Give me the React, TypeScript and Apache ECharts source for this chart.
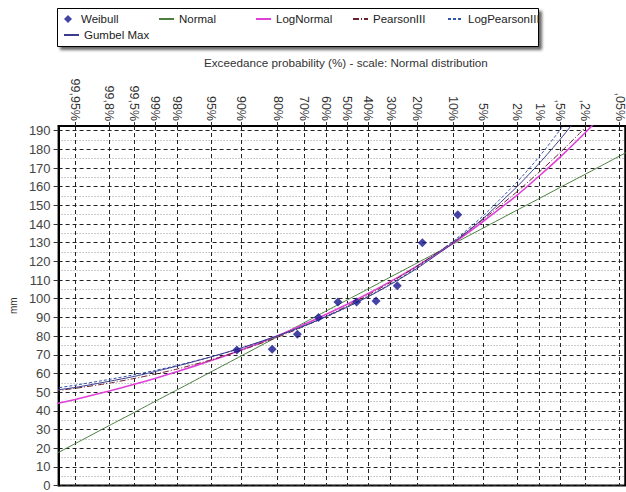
import React, { useEffect, useRef } from "react";
import * as echarts from "echarts";

// Exceedance probability ticks (top axis, normal probability scale)
const tickProbs = [99.95, 99.8, 99.5, 99, 98, 95, 90, 80, 70, 60, 50, 40, 30, 20, 10, 5, 2, 1, 0.5, 0.2, 0.05];
const tickLabels = ["99,95%", "99,8%", "99,5%", "99%", "98%", "95%", "90%", "80%", "70%", "60%", "50%", "40%", "30%", "20%", "10%", "5%", "2%", "1%", ",5%", ",2%", ",05%"];

// Observed values with Weibull plotting positions
const weibullProbs = [90.9, 81.8, 72.7, 63.6, 54.5, 45.5, 36.4, 27.3, 18.2, 9.09];
const weibullValues = [72.5, 73, 81, 90, 98.3, 98.3, 98.8, 107, 130, 145];

// Fitted distribution curves, read at these exceedance probabilities
const curveProbs = [99.98, 99.95, 99.8, 99.5, 99, 98, 95, 90, 80, 70, 60, 50, 40, 30, 20, 10, 5, 2, 1, 0.5, 0.2, 0.1, 0.05, 0.02];
const normalValues = [16.6, 22.4, 32.1, 39.1, 45.0, 51.3, 60.9, 69.4, 79.7, 87.1, 93.5, 99.4, 105.3, 111.7, 119.1, 129.4, 137.9, 147.5, 153.8, 159.7, 166.7, 171.7, 176.4, 182.2];
const logNormalValues = [43.6, 46.1, 50.6, 54.2, 57.3, 61.0, 66.9, 72.6, 80.2, 86.2, 91.7, 97.1, 102.8, 109.3, 117.5, 129.8, 141.5, 155.5, 166.0, 176.0, 189.0, 199.0, 210.0, 225.0];
const pearson3Values = [50.6, 52.0, 54.8, 57.3, 59.6, 62.4, 67.3, 72.4, 79.4, 85.2, 90.6, 96.1, 102.0, 108.8, 117.4, 130.6, 142.6, 157.4, 168.1, 178.4, 191.7, 201.5, 211.0, 225.0];
const logPearson3Values = [52.0, 53.7, 56.8, 59.3, 61.6, 64.3, 68.9, 73.5, 80.0, 85.3, 90.3, 95.5, 101.2, 107.9, 116.7, 130.8, 144.5, 162.6, 176.4, 190.7, 210.0, 225.0, 240.0, 260.0];
const gumbelValues = [51.0, 52.5, 55.8, 58.4, 61.0, 64.0, 68.9, 73.7, 80.2, 85.5, 90.5, 95.6, 101.1, 107.7, 116.2, 129.9, 143.1, 160.1, 172.8, 185.5, 202.3, 215.0, 228.0, 245.0];

const FONT = "Liberation Sans, Arial, sans-serif";

// Inverse standard normal CDF (Acklam) - the axis transform of a normal probability scale
function probit(p: number): number {
  const a = [-3.969683028665376e1, 2.209460984245205e2, -2.759285104469687e2, 1.38357751867269e2, -3.066479806614716e1, 2.506628277459239];
  const b = [-5.447609879822406e1, 1.615858368580409e2, -1.556989798598866e2, 6.680131188771972e1, -1.328068155288572e1];
  const c = [-7.784894002430293e-3, -3.223964580411365e-1, -2.400758277161838, -2.549732539343734, 4.374664141464968, 2.938163982698783];
  const d = [7.784695709041462e-3, 3.224671290700398e-1, 2.445134137142996, 3.754408661907416];
  const pl = 0.02425;
  if (p < pl) {
    const q = Math.sqrt(-2 * Math.log(p));
    return (((((c[0] * q + c[1]) * q + c[2]) * q + c[3]) * q + c[4]) * q + c[5]) / ((((d[0] * q + d[1]) * q + d[2]) * q + d[3]) * q + 1);
  }
  if (p > 1 - pl) {
    const q = Math.sqrt(-2 * Math.log(1 - p));
    return -(((((c[0] * q + c[1]) * q + c[2]) * q + c[3]) * q + c[4]) * q + c[5]) / ((((d[0] * q + d[1]) * q + d[2]) * q + d[3]) * q + 1);
  }
  const q = p - 0.5;
  const r = q * q;
  return ((((((a[0] * r + a[1]) * r + a[2]) * r + a[3]) * r + a[4]) * r + a[5]) * q) / (((((b[0] * r + b[1]) * r + b[2]) * r + b[3]) * r + b[4]) * r + 1);
}
const zOf = (exceed: number) => -probit(exceed / 100);

const tickZ = tickProbs.map(zOf);
const pairs = (probs: number[], vals: number[]) => probs.map((p, i) => [zOf(p), vals[i]]);

const X_MIN = -3.49;
const X_MAX = 3.36;

function buildOption(): any {
  const lineBase = { type: "line", showSymbol: false, symbol: "none", smooth: 0.2, clip: true };
  const legendBase = {
    orient: "horizontal",
    padding: 0,
    itemGap: 0,
    itemWidth: 15,
    itemHeight: 8,
    itemStyle: { opacity: 0 },
    textStyle: { fontSize: 11.5, color: "#222", fontFamily: FONT },
  };
  return {
    animation: false,
    backgroundColor: "#fff",
    grid: { left: 58, top: 126, right: -2, bottom: 3, show: true, borderColor: "#000", borderWidth: 2, backgroundColor: "transparent" },
    graphic: [
      {
        type: "rect",
        left: 57,
        top: 8,
        shape: { width: 481, height: 38 },
        style: { fill: "#fff", stroke: "#000", lineWidth: 1, shadowBlur: 3, shadowOffsetX: 3, shadowOffsetY: 3, shadowColor: "rgba(0,0,0,0.6)" },
        z: 0,
      },
    ],
    legend: [
      {
        ...legendBase,
        data: ["Weibull"],
        left: 64,
        top: 13,
        itemWidth: 8,
        itemHeight: 8,
        itemStyle: {},
        textStyle: { ...legendBase.textStyle, padding: [0, 0, 0, 4] },
      },
      { ...legendBase, data: ["Normal"], left: 158, top: 13 },
      { ...legendBase, data: ["LogNormal"], left: 255, top: 13 },
      { ...legendBase, data: ["PearsonIII"], left: 352, top: 13 },
      { ...legendBase, data: ["LogPearsonIII"], left: 447, top: 13 },
      { ...legendBase, data: ["Gumbel Max"], left: 63, top: 29 },
    ],
    xAxis: {
      type: "value",
      position: "top",
      min: X_MIN,
      max: X_MAX,
      name: "Exceedance probability (%) - scale: Normal distribution",
      nameLocation: "middle",
      nameGap: 58,
      nameTextStyle: { fontSize: 11.7, color: "#333", fontFamily: FONT, padding: [0, 0, 0, 8] },
      axisLine: { show: true, onZero: false, lineStyle: { color: "#000", width: 2 } },
      axisTick: { show: true, customValues: tickZ, length: 4, lineStyle: { color: "#333" } },
      axisLabel: {
        customValues: tickZ,
        rotate: 90,
        margin: 5,
        fontSize: 12.5,
        color: "#333",
        fontFamily: FONT,
        formatter: (v: number) => {
          const i = tickZ.findIndex((t) => Math.abs(t - v) < 1e-6);
          return i >= 0 ? tickLabels[i] : "";
        },
      },
      splitLine: { show: true, lineStyle: { color: "#222", type: [4, 3], width: 1 } },
    },
    yAxis: {
      type: "value",
      min: 0,
      max: 192.5,
      interval: 10,
      name: "mm",
      nameLocation: "middle",
      nameGap: 40,
      nameRotate: 90,
      nameTextStyle: { fontSize: 10, color: "#333", fontFamily: FONT },
      axisLine: { show: true, onZero: false, lineStyle: { color: "#000", width: 2 } },
      axisTick: { show: true, length: 5, lineStyle: { color: "#333" } },
      axisLabel: { showMaxLabel: false, fontSize: 13, color: "#444", margin: 8, fontFamily: FONT },
      splitLine: { show: true, lineStyle: { color: "#222", type: [4, 3], width: 1 } },
      minorTick: { show: false, splitNumber: 2 },
      minorSplitLine: { show: true, lineStyle: { color: "#999", type: [1, 2], width: 1 } },
    },
    series: [
      { ...lineBase, name: "Normal", data: pairs(curveProbs, normalValues), lineStyle: { color: "#4a7f3f", width: 1 }, itemStyle: { color: "#4a7f3f" }, z: 2 },
      { ...lineBase, name: "LogNormal", data: pairs(curveProbs, logNormalValues), lineStyle: { color: "#e040d8", width: 1.6 }, itemStyle: { color: "#e040d8" }, z: 3 },
      { ...lineBase, name: "PearsonIII", data: pairs(curveProbs, pearson3Values), lineStyle: { color: "#6b1f2f", width: 1, type: [6, 2, 1, 2] }, itemStyle: { color: "#6b1f2f" }, z: 4 },
      { ...lineBase, name: "LogPearsonIII", data: pairs(curveProbs, logPearson3Values), lineStyle: { color: "#3355aa", width: 1, type: [3, 2] }, itemStyle: { color: "#3355aa" }, z: 4 },
      { ...lineBase, name: "Gumbel Max", data: pairs(curveProbs, gumbelValues), lineStyle: { color: "#3b3b8c", width: 1 }, itemStyle: { color: "#3b3b8c" }, z: 5 },
      {
        type: "scatter",
        name: "Weibull",
        data: pairs(weibullProbs, weibullValues),
        symbol: "diamond",
        symbolSize: 9,
        itemStyle: { color: "#15158f" },
        z: 6,
      },
    ],
  };
}

export default function App() {
  const ref = useRef<HTMLDivElement>(null);
  useEffect(() => {
    if (!ref.current) return;
    const chart = echarts.init(ref.current, null, { renderer: "svg" });
    chart.setOption(buildOption());
    return () => chart.dispose();
  }, []);
  return <div ref={ref} style={{ position: "fixed", left: 0, top: 0, width: 626, height: 492, background: "#fff" }} />;
}
